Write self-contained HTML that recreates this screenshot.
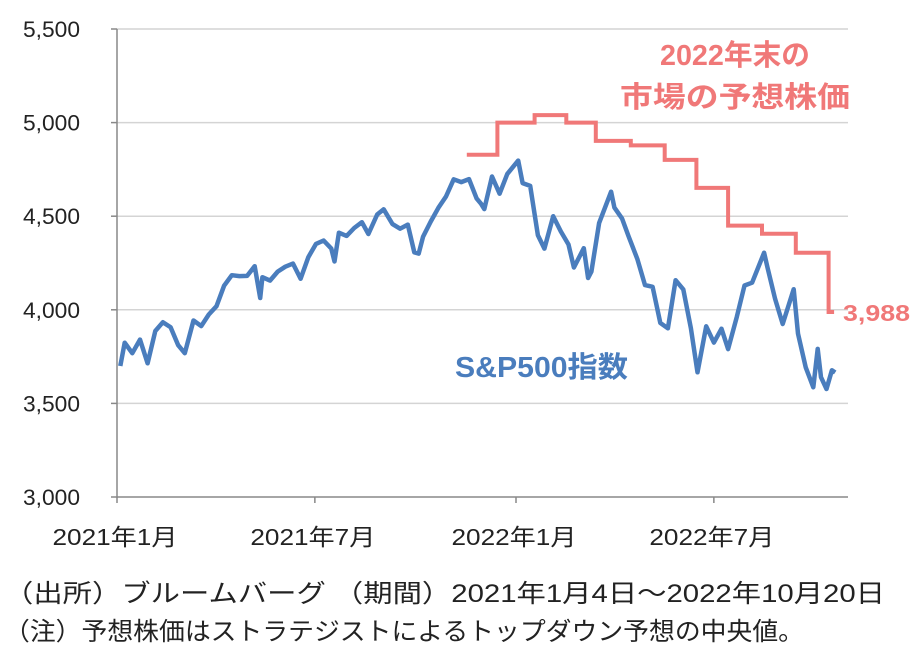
<!DOCTYPE html>
<html><head><meta charset="utf-8"><style>
body{margin:0;background:#fff;width:919px;height:661px;overflow:hidden}
svg{display:block}
text{font-family:"Liberation Sans","Noto Sans CJK JP",sans-serif}
</style></head><body>
<svg id="chart" width="919" height="661" viewBox="0 0 919 661">
<g id="grid"></g><g id="axes"></g><g id="series"></g>
<text x="735" y="65" text-anchor="middle" font-size="29" font-weight="bold" fill="#f07878" textLength="150" lengthAdjust="spacingAndGlyphs">2022年末の</text>
<text x="735" y="107" text-anchor="middle" font-size="29" font-weight="bold" fill="#f07878" textLength="230" lengthAdjust="spacingAndGlyphs">市場の予想株価</text>
<text x="455" y="377" font-size="29" font-weight="bold" fill="#4a7dbd" textLength="173" lengthAdjust="spacingAndGlyphs">S&amp;P500指数</text>
<text x="843" y="321" font-size="23" font-weight="bold" fill="#f07878" textLength="67" lengthAdjust="spacingAndGlyphs">3,988</text>
<text x="4" y="602" font-size="25" fill="#222" textLength="881" lengthAdjust="spacingAndGlyphs">（出所）ブルームバーグ （期間）2021年1月4日～2022年10月20日</text>
<text x="4" y="640" font-size="25" fill="#222" textLength="800" lengthAdjust="spacingAndGlyphs">（注）予想株価はストラテジストによるトップダウン予想の中央値。</text>
</svg>
<script>
const yTicks=[3000,3500,4000,4500,5000,5500];
const yTickLabels=["3,000","3,500","4,000","4,500","5,000","5,500"];
const xTickDates=["2021-01-01","2021-07-01","2022-01-01","2022-07-01"];
const xTickLabels=["2021年1月","2021年7月","2022年1月","2022年7月"];
const spDates=["2021-01-04","2021-01-08","2021-01-15","2021-01-22","2021-01-29","2021-02-05","2021-02-12","2021-02-19","2021-02-26","2021-03-04","2021-03-12","2021-03-19","2021-03-26","2021-04-02","2021-04-09","2021-04-16","2021-04-23","2021-04-30","2021-05-07","2021-05-12","2021-05-14","2021-05-21","2021-05-28","2021-06-04","2021-06-11","2021-06-18","2021-06-25","2021-07-02","2021-07-09","2021-07-16","2021-07-19","2021-07-23","2021-07-30","2021-08-06","2021-08-13","2021-08-19","2021-08-27","2021-09-02","2021-09-10","2021-09-17","2021-09-24","2021-09-30","2021-10-04","2021-10-08","2021-10-15","2021-10-22","2021-10-29","2021-11-05","2021-11-12","2021-11-19","2021-11-26","2021-11-30","2021-12-03","2021-12-10","2021-12-17","2021-12-24","2022-01-03","2022-01-07","2022-01-14","2022-01-21","2022-01-27","2022-02-04","2022-02-11","2022-02-18","2022-02-23","2022-03-04","2022-03-08","2022-03-11","2022-03-18","2022-03-29","2022-04-01","2022-04-08","2022-04-14","2022-04-22","2022-04-29","2022-05-06","2022-05-13","2022-05-20","2022-05-27","2022-06-03","2022-06-10","2022-06-16","2022-06-24","2022-07-01","2022-07-08","2022-07-14","2022-07-22","2022-07-29","2022-08-05","2022-08-16","2022-08-19","2022-08-26","2022-09-02","2022-09-12","2022-09-16","2022-09-23","2022-09-30","2022-10-04","2022-10-07","2022-10-12","2022-10-17","2022-10-20"];
const spValues=[3700,3824,3768,3841,3714,3887,3934,3907,3811,3768,3943,3913,3975,4019,4129,4185,4180,4181,4233,4063,4174,4156,4204,4230,4247,4166,4281,4352,4370,4327,4258,4412,4395,4437,4468,4405,4509,4537,4458,4433,4455,4307,4300,4391,4471,4545,4605,4697,4682,4698,4595,4567,4538,4712,4620,4726,4797,4677,4662,4398,4327,4500,4419,4349,4226,4329,4170,4204,4463,4631,4546,4488,4392,4272,4132,4123,3930,3901,4158,4109,3901,3666,3912,3825,3899,3790,3962,4130,4145,4305,4228,4058,3924,4110,3873,3693,3586,3791,3640,3577,3677,3665];
const fcDates=["2021-11-17","2021-12-15","2022-01-18","2022-02-16","2022-03-15","2022-04-16","2022-05-17","2022-06-15","2022-07-14","2022-08-14","2022-09-14","2022-10-14","2022-10-19"];
const fcValues=[4828,5000,5040,5000,4902,4878,4801,4651,4450,4406,4305,3988,3988];
const NS="http://www.w3.org/2000/svg";
const x0=Date.UTC(2021,0,1);
function day(s){const p=s.split("-");return (Date.UTC(+p[0],p[1]-1,+p[2])-x0)/864e5;}
function X(s){return 117+day(s)*399/365;}
function Y(v){return 497-(v-3000)*468/2500;}
function mk(t,a,parent){const e=document.createElementNS(NS,t);for(const k in a)e.setAttribute(k,a[k]);document.getElementById(parent).appendChild(e);return e;}
yTicks.forEach((v,i)=>{
  if(v>3000){const g=mk("line",{x1:117,x2:848,y1:Y(v),y2:Y(v),stroke:"#d4d4d4","stroke-width":1.5},"grid");
  
  }
  const tk=mk("line",{x1:111,x2:117,y1:Y(v),y2:Y(v),stroke:"#888","stroke-width":1.5},"axes");
  
  
  const t=mk("text",{x:80,y:Y(v)+8,"text-anchor":"end","font-size":22,fill:"#222",textLength:57,lengthAdjust:"spacingAndGlyphs"},"axes");
  t.textContent=yTickLabels[i];
  
  
});
const ya=mk("line",{x1:117,x2:117,y1:29,y2:498,stroke:"#888","stroke-width":1.5},"axes");


const xa=mk("line",{x1:117,x2:848,y1:497,y2:497,stroke:"#888","stroke-width":1.5},"axes");


xTickDates.forEach((d,i)=>{
  const tk=mk("line",{x1:X(d),x2:X(d),y1:497,y2:503,stroke:"#888","stroke-width":1.5},"axes");
  
  
  const t=mk("text",{x:X(d)-2,y:545,"text-anchor":"middle","font-size":23,fill:"#222",textLength:125,lengthAdjust:"spacingAndGlyphs"},"axes");
  t.textContent=xTickLabels[i];
  
  
});
const sp=mk("polyline",{points:spDates.map((d,i)=>X(d).toFixed(1)+","+Y(spValues[i]).toFixed(1)).join(" "),fill:"none",stroke:"#4a7dbd","stroke-width":4.5,"stroke-linejoin":"round"},"series");


let pts=[];
fcDates.forEach((d,i)=>{if(i>0)pts.push(X(d).toFixed(1)+","+Y(fcValues[i-1]).toFixed(1));pts.push(X(d).toFixed(1)+","+Y(fcValues[i]).toFixed(1));});
const fc=mk("polyline",{points:pts.join(" "),fill:"none",stroke:"#f07878","stroke-width":4},"series");


</script>
</body></html>
